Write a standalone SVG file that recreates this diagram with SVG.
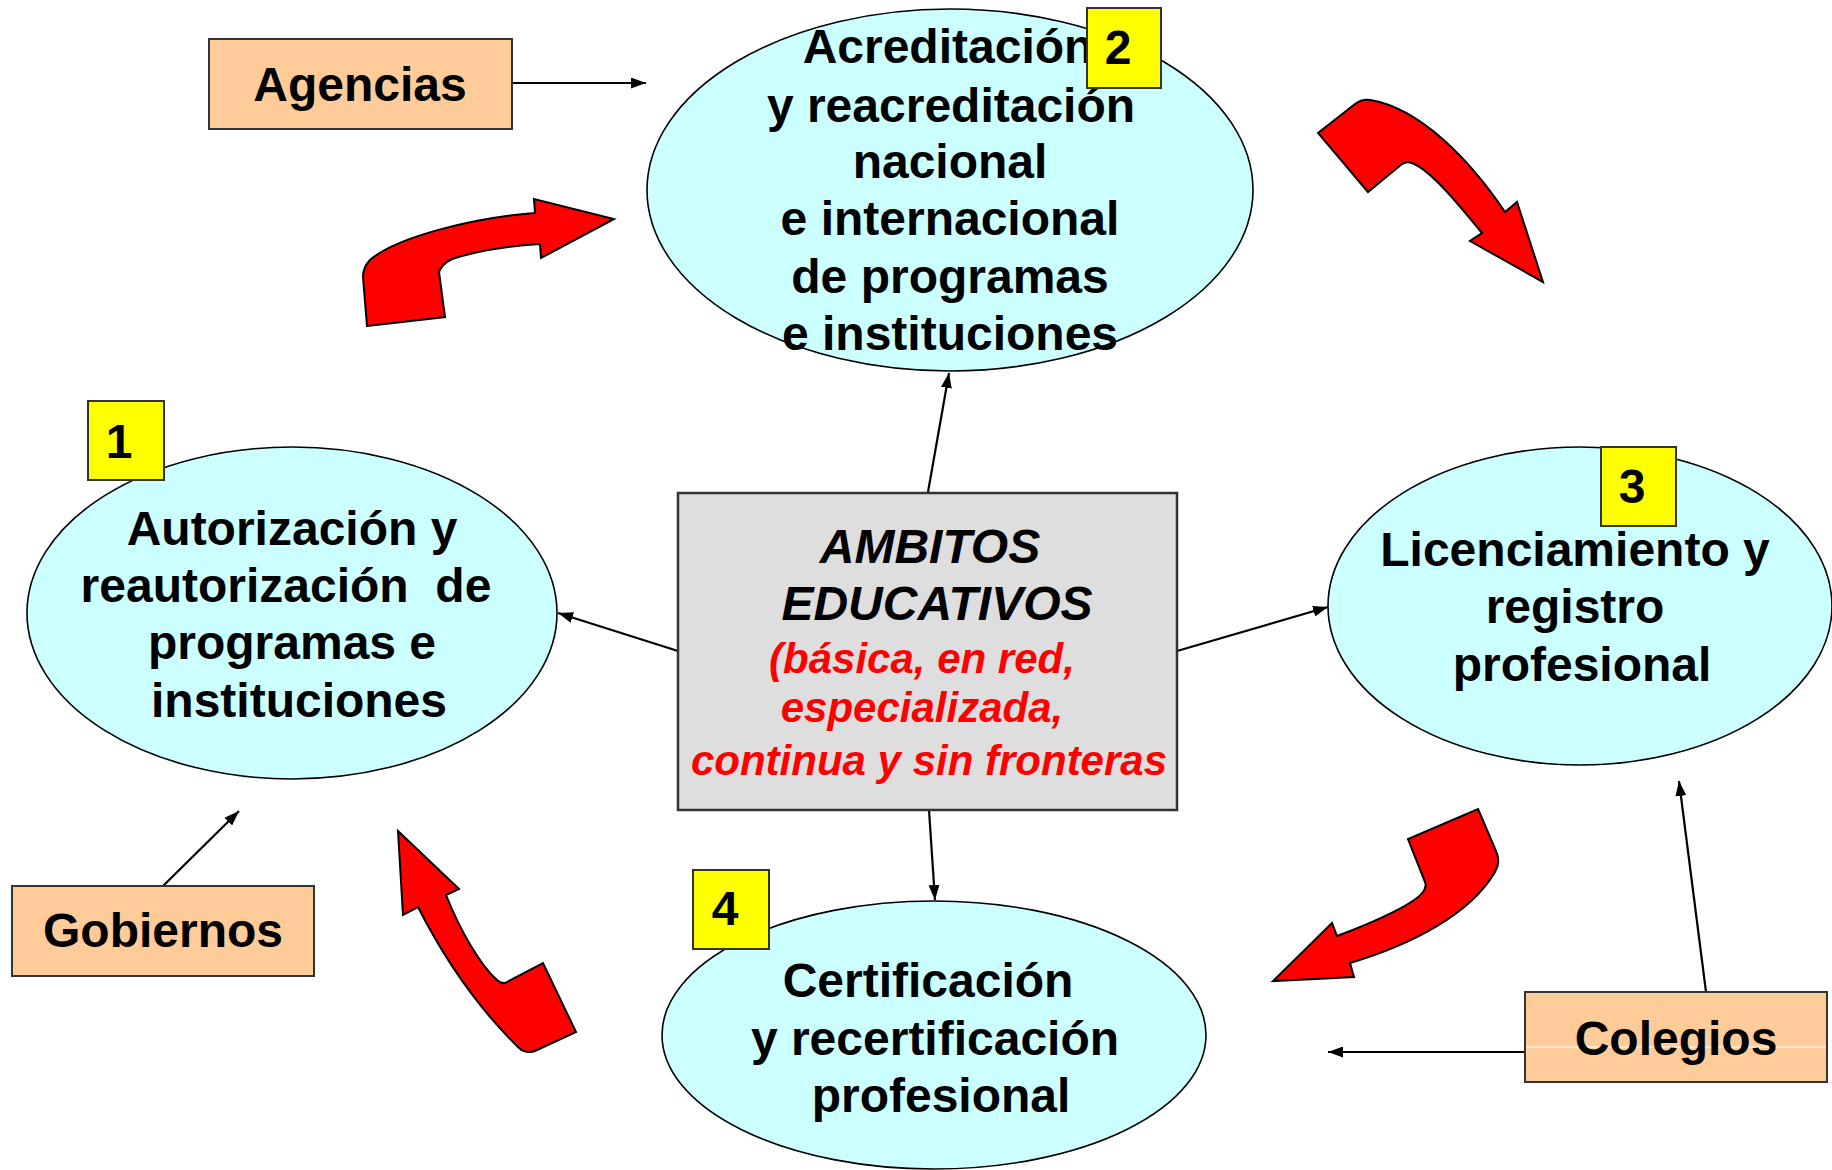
<svg xmlns="http://www.w3.org/2000/svg" width="1832" height="1170" viewBox="0 0 1832 1170">
<style>
text{font-family:"Liberation Sans",Arial,sans-serif;font-weight:bold;text-anchor:middle;fill:#000;white-space:pre}
.t{font-size:48px}
.ell{fill:#CCFFFF;stroke:#000;stroke-width:1.6}
.badge{fill:#FFFF00;stroke:#333;stroke-width:2}
.box{fill:#FFCC99;stroke:#333;stroke-width:2}
.conn{stroke:#000;stroke-width:2.2;fill:none;marker-end:url(#ah)}
.red{fill:#FF0000;stroke:#000;stroke-width:2;stroke-linejoin:miter}
.it{font-style:italic}
.rt{font-size:42px;fill:#FF0000}
</style>
<defs>
<marker id="ah" viewBox="0 0 15 11" refX="15" refY="5.5" markerWidth="15" markerHeight="11" orient="auto" markerUnits="userSpaceOnUse">
<path d="M0,0 L15,5.5 L0,11 Z" fill="#000"/>
</marker>
</defs>
<rect width="1832" height="1170" fill="#fff"/>

<g id="connectors">
<line class="conn" x1="512" y1="83" x2="646" y2="83"/>
<line class="conn" x1="928" y1="492" x2="949" y2="373"/>
<line class="conn" x1="678" y1="651" x2="558" y2="613"/>
<line class="conn" x1="1177" y1="651" x2="1328" y2="607"/>
<line class="conn" x1="929" y1="810" x2="935" y2="900"/>
<line class="conn" x1="163" y1="886" x2="239" y2="811"/>
<line class="conn" x1="1706" y1="992" x2="1679" y2="781"/>
<line class="conn" x1="1525" y1="1052" x2="1328" y2="1052"/>
</g>

<g id="red-arrows">
<path class="red" d="M367,326 L445,317 L439,272 Q442,264 452,259 C480,250 510,246 540,244 L541,258 L614,219 L534,199 L535,213 C470,218 395,238 370,260 Q363,267 363,277 Z"/>
<path class="red" d="M1318,133 L1355,104 Q1362,99 1370,100 C1420,108 1470,160 1505,212 L1517,202 L1543,282 L1470,241 L1482,233 C1455,200 1430,170 1412,163 Q1406,161 1402,164 L1368,192 Z"/>
<path class="red" d="M1478,809 L1496,851 Q1501,862 1495,872 C1470,915 1410,945 1350,963 L1354,977 L1273,981 L1332,923 L1337,936 C1380,920 1415,903 1423,892 Q1427,886 1425,882 L1408,839 Z"/>
<path class="red" d="M398,831 L459,889 L446,895 C460,930 480,965 497,980 Q502,985 507,982 L543,963 L576,1032 L537,1050 Q527,1055 519,1048 C480,1010 445,960 418,907 L403,915 Z"/>
</g>

<g id="node-agencias">
<rect class="box" x="209" y="39" width="303" height="90"/>
<text class="t" x="360" y="101">Agencias</text>
</g>

<g id="node-gobiernos">
<rect class="box" x="12" y="886" width="302" height="90"/>
<text class="t" x="163" y="947">Gobiernos</text>
</g>

<g id="node-colegios">
<rect class="box" x="1525" y="992" width="302" height="90"/>
<line x1="1526" y1="1047" x2="1826" y2="1047" stroke="#fff" stroke-width="1"/>
<text class="t" x="1676" y="1055">Colegios</text>
</g>

<g id="node-2">
<ellipse class="ell" cx="950" cy="190" rx="303" ry="181"/>
<text class="t" x="948" y="63">Acreditación</text>
<text class="t" x="951" y="122">y reacreditación</text>
<text class="t" x="950" y="178">nacional</text>
<text class="t" x="950" y="235">e internacional</text>
<text class="t" x="950" y="293">de programas</text>
<text class="t" x="950" y="350">e instituciones</text>
<rect class="badge" x="1087" y="8" width="74" height="80"/>
<text class="t" x="1118" y="64">2</text>
</g>

<g id="node-1">
<ellipse class="ell" cx="292" cy="613" rx="265" ry="166"/>
<text class="t" x="292" y="545">Autorización y</text>
<text class="t" x="286" y="602">reautorización  de</text>
<text class="t" x="292" y="659">programas e</text>
<text class="t" x="299" y="717">instituciones</text>
<rect class="badge" x="88" y="401" width="76" height="79"/>
<text class="t" x="119" y="458">1</text>
</g>

<g id="node-3">
<ellipse class="ell" cx="1580" cy="606" rx="252" ry="159"/>
<text class="t" x="1575" y="566">Licenciamiento y</text>
<text class="t" x="1575" y="623">registro</text>
<text class="t" x="1582" y="681">profesional</text>
<rect class="badge" x="1601" y="447" width="75" height="79"/>
<text class="t" x="1632" y="503">3</text>
</g>

<g id="node-4">
<ellipse class="ell" cx="934" cy="1035" rx="272" ry="134"/>
<text class="t" x="928" y="997">Certificación</text>
<text class="t" x="935" y="1055">y recertificación</text>
<text class="t" x="941" y="1112">profesional</text>
<rect class="badge" x="693" y="870" width="76" height="79"/>
<text class="t" x="725" y="925">4</text>
</g>

<g id="node-ambitos">
<rect x="678" y="493" width="499" height="317" fill="#DEDEDE" stroke="#333" stroke-width="2.5"/>
<text class="t it" x="930" y="563">AMBITOS</text>
<text class="t it" x="937" y="620">EDUCATIVOS</text>
<text class="it rt" x="922" y="673">(básica, en red,</text>
<text class="it rt" x="922" y="722">especializada,</text>
<text class="it rt" x="929" y="775">continua y sin fronteras</text>
</g>
</svg>
